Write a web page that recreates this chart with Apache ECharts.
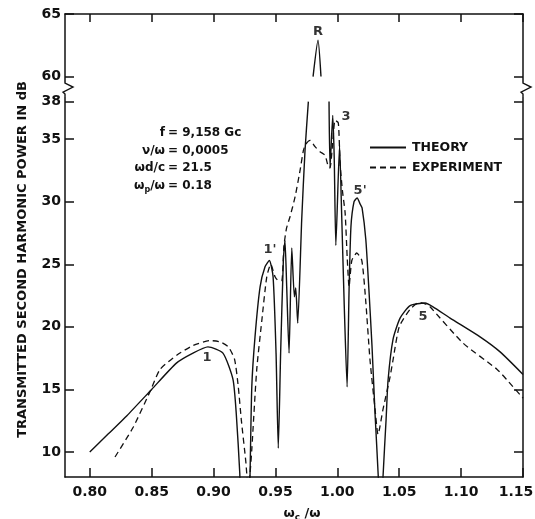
<!DOCTYPE html>
<html><head><meta charset="utf-8">
<script src="https://cdn.jsdelivr.net/npm/echarts@6/dist/echarts.min.js"></script>
<style>html,body{margin:0;padding:0;background:#fff}#c{width:535px;height:519px}</style>
</head><body><div id="c"></div>
<script>
// ---- data ----
const xTicks = [0.80, 0.85, 0.90, 0.95, 1.00, 1.05, 1.10, 1.15];
const yTicks = [10, 15, 20, 25, 30, 35, 38, 60, 65];

const theoryX = [0.800,0.815,0.830,0.850,0.870,0.8834,0.8955,0.9076,0.9157,0.9184,0.9212,0.9222,0.9285,0.9295,0.9309,0.9335,0.9376,0.9416,0.9451,0.9481,0.9505,0.9523,0.9542,0.9564,0.9577,0.9591,0.9610,0.9632,0.9653,0.9664,0.9680,0.9712,0.9739,0.9766,0.9770,0.9804,0.9844,0.9868,0.9900,0.9933,0.9941,0.9963,0.9975,0.9988,1.0018,1.0035,1.0055,1.0079,1.0095,1.0110,1.0135,1.0160,1.0185,1.0200,1.0230,1.0255,1.0280,1.0305,1.0331,1.0340,1.0360,1.0369,1.0394,1.0410,1.0450,1.0507,1.0588,1.0709,1.0773,1.0911,1.1153,1.1315,1.1500];
const theoryY = [10.0,11.45,12.9,15.0,17.1,17.9,18.4,17.9,15.8,13.0,8.3,5,5,8.3,15.2,19.2,23.2,24.8,25.3,24.0,17.9,10.3,17.9,25.3,26.9,23.2,17.9,26.3,22.4,23.1,20.3,28.5,34.1,38,null,60,62.9,60,null,38,32.7,36.9,33.5,26.5,34.5,29,22,15.2,23,28,30,30.3,29.8,29.5,27,23,18.5,13,8,5,5,8,12.6,15.75,19.0,20.7,21.7,21.9,21.6,20.7,19.2,18.0,16.2];

const expX = [0.8204,0.8352,0.8495,0.8568,0.8705,0.8834,0.8972,0.9052,0.9120,0.9170,0.9200,0.9225,0.9260,0.9281,0.9295,0.9309,0.9349,0.9390,0.9430,0.9462,0.9497,0.9523,0.9551,0.9569,0.9590,0.9618,0.9659,0.9699,0.9726,0.9745,0.9780,0.9820,0.9860,0.9901,0.9927,0.9941,0.9960,0.9982,1.0008,1.0022,1.0041,1.0063,1.0080,1.0095,1.0117,1.0157,1.0198,1.0230,1.0264,1.0305,1.0329,1.0369,1.0426,1.0450,1.0500,1.0588,1.0660,1.0720,1.0749,1.1016,1.1291,1.1371,1.1500];
const expY = [9.6,12.0,15.0,16.6,17.75,18.5,18.9,18.8,18.4,17.4,15.2,12.5,9.3,7,8.3,10.2,16.6,20.5,24.0,25.0,24.0,23.7,23.7,26.5,27.9,28.8,30.4,32.5,34.1,34.6,34.9,34.4,34.0,33.7,32.8,32.7,34.4,36.5,36.3,33.1,30.9,29.1,25.5,23.2,25.3,25.9,25.3,22,17.35,13.4,11.4,13.4,16.0,17.35,20.0,21.4,21.95,21.8,21.6,18.7,16.6,15.75,14.3];

const annText = ['R', '3', "1'", "5'", '1', '5'];
const annX = [0.9844, 1.0070, 0.9456, 1.0184, 0.8947, 1.0693];
const annY = [63.6, 36.8, 26.2, 30.9, 17.5, 20.8];

const paramNames = ['f', 'ν/ω', 'ωd/c', '{a|ω}{b|p}{a|/ω}'];
const paramValues = ['= 9,158 Gc', '= 0,0005', '= 21.5', '= 0.18'];

// ---- broken axis mapping (38 ... 60) ----
const BREAK_LOW = 38, BREAK_HIGH = 60, BREAK_GAP = 2;
function toAxis(v) { if (v === null || v === undefined) return '-'; return v >= BREAK_HIGH ? v - (BREAK_HIGH - BREAK_LOW) + BREAK_GAP : v; }
function fromAxis(t) { return t > BREAK_LOW + BREAK_GAP / 2 ? t + (BREAK_HIGH - BREAK_LOW) - BREAK_GAP : t; }

const FONT = 'DejaVu Sans';
const INK = '#111';
const yTickAxis = yTicks.map(toAxis);

const chart = echarts.init(document.getElementById('c'), null, {renderer: 'canvas'});

const axisLineStyle = {color: INK, width: 1.5};
const option = {
  animation: false,
  backgroundColor: '#fff',
  color: [INK, INK, INK],
  grid: {left: 65, right: 12, top: 14, bottom: 42, containLabel: false, outerBoundsMode: 'none'},
  legend: {
    data: ['THEORY', 'EXPERIMENT'],
    orient: 'vertical', left: 364, top: 136,
    itemWidth: 36, itemHeight: 10, itemGap: 7,
    itemStyle: {opacity: 0},
    textStyle: {fontFamily: FONT, fontWeight: 'bold', fontSize: 12.5, color: INK, padding: [0, 0, 0, 1]}
  },
  xAxis: [{
    type: 'value', min: 0.78, max: 1.15, position: 'bottom',
    axisLine: {show: true, onZero: false, lineStyle: axisLineStyle},
    axisTick: {show: true, inside: true, length: 9, customValues: xTicks, lineStyle: axisLineStyle},
    axisLabel: {customValues: xTicks,
      formatter: v => (Math.abs(v - 1.15) < 1e-6 ? '{r|' + v.toFixed(2) + '}' : v.toFixed(2)),
      rich: {r: {fontFamily: FONT, fontWeight: 'bold', fontSize: 14, color: INK, padding: [0, 14, 0, 0]}},
      margin: 8, fontFamily: FONT, fontWeight: 'bold', fontSize: 14, color: INK},
    splitLine: {show: false},
    name: '{w|ω}{s|c}{w| /ω}', nameLocation: 'middle', nameGap: 29,
    nameTextStyle: {padding: [0, 0, 0, 16], rich: {
      w: {fontFamily: FONT, fontWeight: 'bold', fontSize: 13, color: INK},
      s: {fontFamily: FONT, fontWeight: 'bold', fontSize: 9, color: INK, padding: [7, 0, 0, 0]}
    }}
  }, {
    type: 'value', min: 0.78, max: 1.15, position: 'top',
    axisLine: {show: true, onZero: false, lineStyle: axisLineStyle},
    axisTick: {show: true, inside: true, length: 8, customValues: xTicks, lineStyle: axisLineStyle},
    axisLabel: {show: false}, splitLine: {show: false}
  }],
  yAxis: [{
    type: 'value', min: 8, max: toAxis(65), position: 'left',
    axisLine: {show: true, onZero: false, lineStyle: axisLineStyle},
    axisTick: {show: true, inside: true, length: 9, customValues: yTickAxis, lineStyle: axisLineStyle},
    axisLabel: {customValues: yTickAxis, formatter: t => String(Math.round(fromAxis(t))), margin: 4,
      fontFamily: FONT, fontWeight: 'bold', fontSize: 14, color: INK},
    splitLine: {show: false},
    name: 'TRANSMITTED SECOND HARMONIC POWER IN dB', nameLocation: 'middle', nameGap: 36,
    nameTextStyle: {fontFamily: FONT, fontWeight: 'bold', fontSize: 13, color: INK, padding: [0, 28, 0, 0]}
  }, {
    type: 'value', min: 8, max: toAxis(65), position: 'right',
    axisLine: {show: true, onZero: false, lineStyle: axisLineStyle},
    axisTick: {show: true, inside: true, length: 9, customValues: yTickAxis, lineStyle: axisLineStyle},
    axisLabel: {show: false}, splitLine: {show: false}
  }],
  series: [{
    name: 'THEORY', type: 'line', symbol: 'none', connectNulls: false, clip: true, smooth: 0.2,
    itemStyle: {color: INK},
    lineStyle: {color: INK, width: 1.4, type: 'solid'},
    data: theoryX.map((x, i) => [x, toAxis(theoryY[i])])
  }, {
    name: 'EXPERIMENT', type: 'line', symbol: 'none', connectNulls: false, clip: true, smooth: 0.2,
    itemStyle: {color: INK},
    lineStyle: {color: INK, width: 1.3, type: [6, 4]},
    data: expX.map((x, i) => [x, toAxis(expY[i])])
  }, {
    name: 'labels', type: 'scatter', symbolSize: 1, itemStyle: {color: 'rgba(0,0,0,0)'},
    label: {show: true, position: 'inside', formatter: p => p.name,
      fontFamily: FONT, fontWeight: 'bold', fontSize: 13, color: '#000', textBorderWidth: 0},
    data: annText.map((t, i) => ({name: t, value: [annX[i], toAxis(annY[i])]}))
  }]
};
chart.setOption(option);

// parameter block and axis-break marks
const xL = chart.convertToPixel({xAxisIndex: 0}, 0.78);
const xR = chart.convertToPixel({xAxisIndex: 0}, 1.15);
const yB = chart.convertToPixel({yAxisIndex: 0}, (BREAK_LOW + toAxis(BREAK_HIGH)) / 2);
const graphics = [];
const rowY = [133, 151, 168, 186];
const rich = {
  a: {fontFamily: FONT, fontWeight: 'bold', fontSize: 12, fill: INK},
  b: {fontFamily: FONT, fontWeight: 'bold', fontSize: 8, fill: INK, padding: [7, 0, 0, 0]}
};
paramNames.forEach((n, i) => {
  graphics.push({type: 'text', x: 165, y: rowY[i], style: {
    text: n.indexOf('{') === 0 ? n : '{a|' + n + '}', rich: rich,
    align: 'right', verticalAlign: 'middle'}});
  graphics.push({type: 'text', x: 168, y: rowY[i], style: {
    text: paramValues[i], font: 'bold 12px "DejaVu Sans"', fill: INK,
    align: 'left', verticalAlign: 'middle'}});
});
[xL, xR].forEach((x) => {
  graphics.push({type: 'rect', shape: {x: x - 2, y: yB - 7, width: 4, height: 14},
    style: {fill: '#fff'}, z: 100});
  graphics.push({type: 'polyline', shape: {points: [[x, yB - 7], [x, yB - 6], [x + 8, yB - 2], [x - 2, yB + 3], [x, yB + 5], [x, yB + 7]]},
    style: {stroke: INK, lineWidth: 1.4, fill: null}, z: 101});
});
chart.setOption({graphic: graphics});
</script>
</body></html>
